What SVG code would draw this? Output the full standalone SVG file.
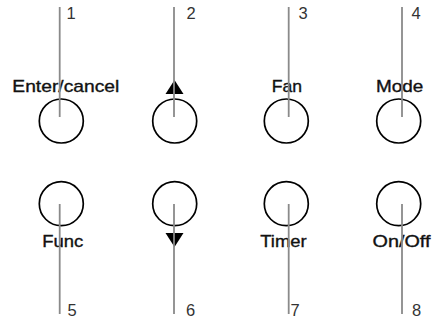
<svg xmlns="http://www.w3.org/2000/svg" width="432" height="320" viewBox="0 0 432 320">
<style>
.btn{fill:none;stroke:#000;stroke-width:1.7}
.lead{stroke:#8a8a8a;stroke-width:1.8;fill:none}
.lbl{font-family:"Liberation Sans",Arial,sans-serif;font-size:17px;fill:#111;stroke:#111;stroke-width:0.35}
.num{font-family:"Liberation Sans",Arial,sans-serif;font-size:16.5px;fill:#333}
.tri{fill:#000}
</style>
<rect width="432" height="320" fill="#fff"/>
<g id="btn1"><circle class="btn" cx="61.3" cy="121" r="22"/><text class="lbl" x="12.3" y="92" textLength="107" lengthAdjust="spacingAndGlyphs">Enter/cancel</text></g>
<g id="btn2"><circle class="btn" cx="174.7" cy="121" r="22"/><polygon class="tri" points="174.5,80 165.5,94 183.5,94"/></g>
<g id="btn3"><circle class="btn" cx="286.3" cy="121" r="22"/><text class="lbl" x="271.7" y="92" textLength="30.3" lengthAdjust="spacingAndGlyphs">Fan</text></g>
<g id="btn4"><circle class="btn" cx="398.7" cy="121" r="22"/><text class="lbl" x="376" y="92" textLength="47.3" lengthAdjust="spacingAndGlyphs">Mode</text></g>
<g id="btn5"><circle class="btn" cx="61.3" cy="203.7" r="22"/><text class="lbl" x="42.3" y="247" textLength="41" lengthAdjust="spacingAndGlyphs">Func</text></g>
<g id="btn6"><circle class="btn" cx="174.7" cy="203.7" r="22"/><polygon class="tri" points="165.5,233 183.5,233 174.5,247"/></g>
<g id="btn7"><circle class="btn" cx="286.3" cy="203.7" r="22"/><text class="lbl" x="260.3" y="247" textLength="46.4" lengthAdjust="spacingAndGlyphs">Timer</text></g>
<g id="btn8"><circle class="btn" cx="398.7" cy="203.7" r="22"/><text class="lbl" x="372.5" y="247" textLength="58" lengthAdjust="spacingAndGlyphs">On/Off</text></g>
<g id="connectors">
<line class="lead" x1="59.7" y1="7" x2="59.7" y2="117"/>
<line class="lead" x1="174" y1="7" x2="174" y2="117"/>
<line class="lead" x1="288.7" y1="7" x2="288.7" y2="117"/>
<line class="lead" x1="402" y1="7" x2="402" y2="117"/>
<line class="lead" x1="59.7" y1="204" x2="59.7" y2="314"/>
<line class="lead" x1="174" y1="204" x2="174" y2="314"/>
<line class="lead" x1="288.7" y1="204" x2="288.7" y2="314"/>
<line class="lead" x1="402" y1="204" x2="402" y2="314"/>
</g>
<g id="numbers">
<text class="num" x="66.5" y="19">1</text>
<text class="num" x="186.5" y="19">2</text>
<text class="num" x="298.5" y="19">3</text>
<text class="num" x="411.5" y="19">4</text>
<text class="num" x="67.5" y="316">5</text>
<text class="num" x="186" y="316">6</text>
<text class="num" x="290.5" y="316">7</text>
<text class="num" x="412" y="316">8</text>
</g>
</svg>
